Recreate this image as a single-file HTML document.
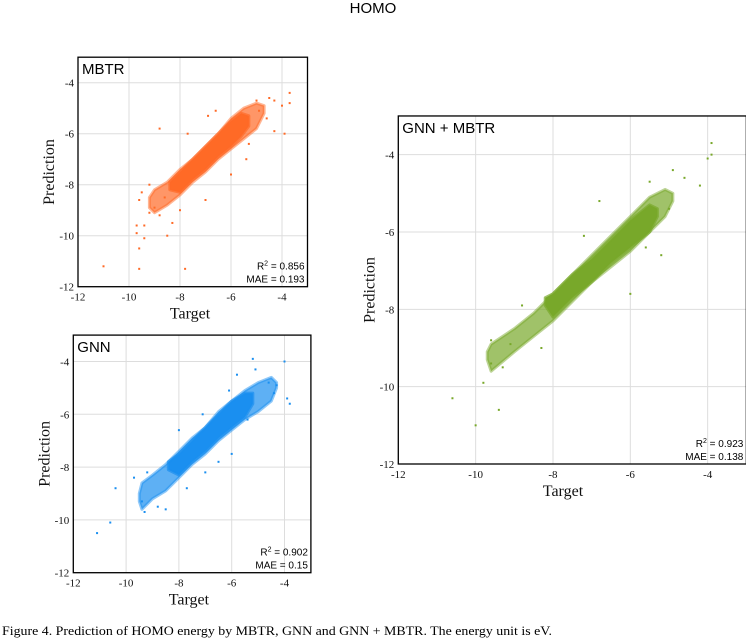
<!DOCTYPE html>
<html><head><meta charset="utf-8"><style>
html,body{margin:0;padding:0;background:#fff;}
svg{display:block;}
.tk{font-family:"Liberation Serif",serif;font-size:11px;fill:#111;}
.ax{font-family:"Liberation Serif",serif;font-size:16px;fill:#111;}
.pl{font-family:"Liberation Sans",sans-serif;font-size:15px;fill:#000;}
.st{font-family:"Liberation Sans",sans-serif;font-size:10px;fill:#000;}
</style></head><body>
<svg id="fig" width="746" height="640" viewBox="0 0 746 640">
<text x="373" y="13" text-anchor="middle" font-family="Liberation Sans, sans-serif" font-size="15">HOMO</text>
<text x="2" y="635" font-family="Liberation Serif, serif" font-size="13" textLength="550" lengthAdjust="spacingAndGlyphs">Figure 4. Prediction of HOMO energy by MBTR, GNN and GNN + MBTR.  The energy unit is eV.</text>
</svg>
<script>
const tickValues=[-12,-10,-8,-6,-4];
// MBTR
const mbtrOuterX=[-9.2,-9,-8.5,-8,-7.5,-7,-6.5,-6,-5.5,-5,-4.7];
const mbtrOuterLo=[-8.9,-9.1,-8.8,-8.4,-7.9,-7.5,-7.0,-6.6,-6.2,-5.8,-5.2];
const mbtrOuterHi=[-8.5,-8.2,-7.9,-7.4,-7.0,-6.5,-6.0,-5.4,-5.0,-4.8,-4.9];
const mbtrInnerX=[-8.4,-8,-7.5,-7,-6.5,-6,-5.6,-5.3];
const mbtrInnerLo=[-8.2,-8.3,-7.8,-7.4,-6.9,-6.5,-6.1,-5.7];
const mbtrInnerHi=[-7.9,-7.5,-7.0,-6.5,-6.0,-5.5,-5.2,-5.3];
const mbtrPtX=[-11,-9.6,-7.8,-9.7,-9.7,-9.6,-9.4,-9.4,-9.5,-9.6,-9.2,-8.8,-8.5,-8,-8.8,-7.7,-6.6,-6.9,-4.9,-4.6,-4.3,-3.9,-3.7,-3.7,-4.5,-5.0,-5.4,-6.0,-7.0,-8.6,-9.0,-9.2,-8.3,-5.3,-4.0,-4.3];
const mbtrPtY=[-11.2,-11.3,-11.3,-9.6,-9.9,-10.5,-10.1,-9.6,-8.3,-8.6,-8.0,-9.2,-10.0,-9.0,-5.8,-6.0,-5.1,-5.3,-5.1,-5.4,-5.9,-6.0,-4.4,-4.8,-4.6,-4.7,-7.0,-7.6,-8.6,-8.5,-8.9,-9.1,-9.5,-6.4,-4.9,-4.7];
// GNN
const gnnOuterX=[-9.5,-9.4,-9,-8.5,-8,-7.5,-7,-6.5,-6,-5.5,-5,-4.5,-4.3];
const gnnOuterLo=[-9.3,-9.6,-9.2,-8.9,-8.4,-7.9,-7.5,-7.0,-6.6,-6.2,-5.9,-5.5,-5.0];
const gnnOuterHi=[-9.0,-8.6,-8.3,-7.9,-7.4,-6.9,-6.5,-5.9,-5.5,-5.1,-4.8,-4.6,-4.8];
const gnnInnerX=[-8.4,-8,-7.5,-7,-6.5,-6,-5.5,-5.2];
const gnnInnerLo=[-8.1,-8.3,-7.8,-7.4,-6.9,-6.5,-6.1,-5.6];
const gnnInnerHi=[-7.8,-7.5,-7.0,-6.5,-6.0,-5.5,-5.2,-5.2];
const gnnPtX=[-11.1,-10.6,-10.4,-9.7,-9.3,-9.4,-9.2,-8.8,-8.5,-8.0,-7.1,-6.1,-5.8,-5.2,-5.1,-4.3,-4.0,-3.9,-3.8,-4.4,-7.0,-7.7,-6.5,-6.0,-5.4,-4.6];
const gnnPtY=[-10.5,-10.1,-8.8,-8.4,-9.7,-9.3,-8.2,-9.5,-9.6,-6.6,-6.0,-5.1,-4.5,-3.9,-4.3,-4.9,-4.0,-5.4,-5.6,-5.2,-8.2,-8.8,-7.8,-7.5,-6.2,-4.8];
// GNN + MBTR
const bothOuterX=[-9.7,-9.6,-9,-8.5,-8,-7.5,-7,-6.5,-6,-5.5,-5.1,-4.9];
const bothOuterLo=[-9.3,-9.6,-9.1,-8.7,-8.3,-7.8,-7.3,-6.9,-6.5,-6.0,-5.6,-5.2];
const bothOuterHi=[-9.1,-8.9,-8.5,-8.1,-7.6,-7.1,-6.6,-6.1,-5.6,-5.1,-4.9,-5.0];
const bothInnerX=[-8.2,-8,-7.5,-7,-6.5,-6,-5.5,-5.3];
const bothInnerLo=[-7.9,-8.2,-7.7,-7.3,-6.8,-6.4,-6.0,-5.6];
const bothInnerHi=[-7.7,-7.6,-7.1,-6.7,-6.2,-5.7,-5.3,-5.4];
const bothPtX=[-10.6,-10,-9.4,-9.8,-9.6,-9.3,-9.6,-9.1,-8.8,-8.3,-7.2,-6.8,-6.0,-5.6,-5.2,-4.9,-4.6,-4.2,-4.0,-3.9,-3.9,-5.0,-5.5];
const bothPtY=[-10.3,-11,-10.6,-9.9,-9.4,-9.5,-8.8,-8.9,-7.9,-9.0,-6.1,-5.2,-7.6,-6.4,-6.6,-4.4,-4.6,-4.8,-4.1,-3.7,-4.0,-5.4,-4.7];

const NS='http://www.w3.org/2000/svg';
const svg=document.getElementById('fig');
function mk(tag,attrs,parent){const e=document.createElementNS(NS,tag);for(const k in attrs)e.setAttribute(k,attrs[k]);(parent||svg).appendChild(e);return e;}

function plot(p){
  const g=mk('g',{});
  
  
  const sx=v=>p.left+(v+12)*p.k, sy=v=>p.bottom-(v+12)*p.k;
  const right=p.left+9*p.k, top=p.bottom-9*p.k;
  tickValues.forEach(t=>{
    const gx=mk('line',{x1:sx(t),x2:sx(t),y1:top,y2:p.bottom,stroke:'#ddd','stroke-width':1},g);
    
    
    const gy=mk('line',{x1:p.left,x2:right,y1:sy(t),y2:sy(t),stroke:'#ddd','stroke-width':1},g);
    
    
    const tx=mk('text',{x:sx(t),y:p.bottom+14,'text-anchor':'middle',class:'tk'},g);tx.textContent=t;
    
    
    const ty=mk('text',{x:p.left-4,y:sy(t)+4,'text-anchor':'end',class:'tk'},g);ty.textContent=t;
    
    
  });
  function band(xs,lo,hi,op,sw,name){
    const pts=xs.map((x,i)=>sx(x)+','+sy(hi[i])).concat(xs.slice().reverse().map((x,j)=>{const i=xs.length-1-j;return sx(x)+','+sy(lo[i]);}));
    const b=mk('polygon',{points:pts.join(' '),fill:p.color,'fill-opacity':op,stroke:p.color,'stroke-opacity':op*0.7,'stroke-width':sw,'stroke-linejoin':'round'},g);
    
    
  }
  band(p.ox,p.olo,p.ohi,0.7,3,'scatter-outer-density');
  band(p.ix,p.ilo,p.ihi,1,3,'scatter-core-density');
  p.px.forEach((x,i)=>{
    const c=mk('rect',{x:sx(x)-1,y:sy(p.py[i])-1,width:2,height:2,fill:p.color},g);
    
    
  });
  const fr=mk('rect',{x:p.left,y:top,width:9*p.k,height:9*p.k,fill:'none',stroke:'#000','stroke-width':1.3},g);
  
  
  const lb=mk('text',{x:p.left+4,y:top+17,class:'pl'},g);lb.textContent=p.label;
  
  
  const r2=mk('text',{x:right-3,y:p.bottom-17,'text-anchor':'end',class:'st'},g);
  r2.innerHTML='R<tspan dy="-4" font-size="7">2</tspan><tspan dy="4"> = '+p.r2+'</tspan>';
  
  
  const ma=mk('text',{x:right-3,y:p.bottom-4,'text-anchor':'end',class:'st'},g);ma.textContent='MAE = '+p.mae;
  
  
  const xt=mk('text',{x:(p.left+sx(-4))/2+10,y:p.bottom+32,'text-anchor':'middle',class:'ax'},g);xt.textContent='Target';
  
  
  const yc=(top+p.bottom)/2, yx=p.left-24;
  const yt=mk('text',{x:yx,y:yc,'text-anchor':'middle',class:'ax',transform:'rotate(-90 '+yx+' '+yc+')'},g);yt.textContent='Prediction';
  
  
}
plot({id:'mbtr',label:'MBTR',left:78,bottom:286.7,k:25.5,color:'#ff6a26',r2:'0.856',mae:'0.193',
  ox:mbtrOuterX,olo:mbtrOuterLo,ohi:mbtrOuterHi,ix:mbtrInnerX,ilo:mbtrInnerLo,ihi:mbtrInnerHi,px:mbtrPtX,py:mbtrPtY});
plot({id:'gnn',label:'GNN',left:73.3,bottom:572.7,k:26.4,color:'#1a8ff0',r2:'0.902',mae:'0.15',
  ox:gnnOuterX,olo:gnnOuterLo,ohi:gnnOuterHi,ix:gnnInnerX,ilo:gnnInnerLo,ihi:gnnInnerHi,px:gnnPtX,py:gnnPtY});
plot({id:'gnn-mbtr',label:'GNN + MBTR',left:398.3,bottom:464,k:38.67,color:'#78a82a',r2:'0.923',mae:'0.138',
  ox:bothOuterX,olo:bothOuterLo,ohi:bothOuterHi,ix:bothInnerX,ilo:bothInnerLo,ihi:bothInnerHi,px:bothPtX,py:bothPtY});
</script>
</body></html>
